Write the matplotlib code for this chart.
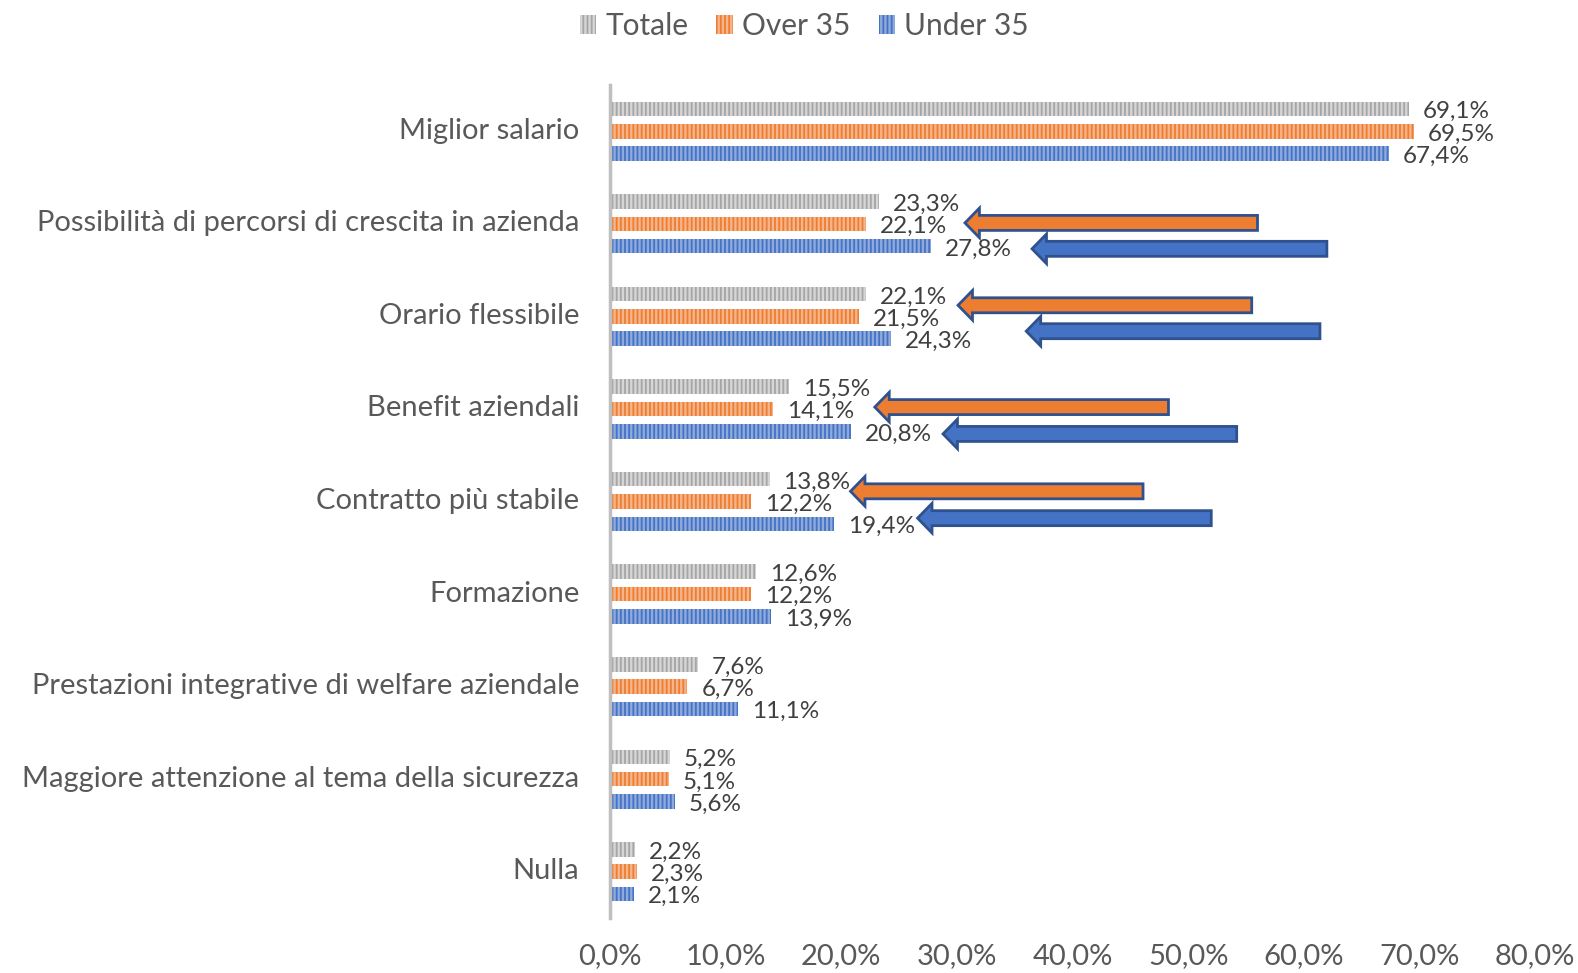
import matplotlib
matplotlib.use("Agg")
import matplotlib.pyplot as plt
import matplotlib.transforms as mtransforms
import numpy as np
from matplotlib.patches import FancyArrow
from matplotlib.ticker import FuncFormatter

plt.rcParams['font.family'] = ['Lato', 'DejaVu Sans']
plt.rcParams['hatch.linewidth'] = 1.7

categories = [
    "Miglior salario",
    "Possibilità di percorsi di crescita in azienda",
    "Orario flessibile",
    "Benefit aziendali",
    "Contratto più stabile",
    "Formazione",
    "Prestazioni integrative di welfare aziendale",
    "Maggiore attenzione al tema della sicurezza",
    "Nulla",
]
series_names = ["Totale", "Over 35", "Under 35"]
totale = [69.1, 23.3, 22.1, 15.5, 13.8, 12.6, 7.6, 5.2, 2.2]
over35 = [69.5, 22.1, 21.5, 14.1, 12.2, 12.2, 6.7, 5.1, 2.3]
under35 = [67.4, 27.8, 24.3, 20.8, 19.4, 13.9, 11.1, 5.6, 2.1]
x_ticks = [0, 10, 20, 30, 40, 50, 60, 70, 80]

# highlight arrows: (category index, series, tip x, tail x)
arrow_rows = [1, 1, 2, 2, 3, 3, 4, 4]
arrow_series = ["Over 35", "Under 35"] * 4
arrow_tips = [30.7, 36.5, 30.1, 36.0, 22.9, 28.8, 20.8, 26.6]
arrow_tails = [56.0, 62.0, 55.5, 61.4, 48.3, 54.2, 46.1, 52.0]
arrow_dy = [-0.01, 0.27, -0.12, 0.16, -0.02, 0.27, -0.11, 0.18]

colors = ["#A5A5A5", "#ED7D31", "#4472C4"]
hatch_colors = ["#D6D6D6", "#F6B48A", "#8FAADC"]

fig = plt.figure(figsize=(15.78, 9.73), dpi=100)
ax = fig.add_axes([610/1578, 1-918/973, (1535-610)/1578, (918-85)/973])

y = np.arange(len(categories))
off = 0.241
h = 0.157
data = [totale, over35, under35]
for i, (vals, name) in enumerate(zip(data, series_names)):
    bars = ax.barh(y + (i-1)*off, vals, height=h, color=colors[i],
                   edgecolor=hatch_colors[i], linewidth=0, hatch='||||', label=name)
    texts = ax.bar_label(bars, labels=[f"{v:.1f}".replace('.', ',') + "%" for v in vals],
                         padding=10, fontsize=17.5, color="#404040")
    for t in texts:
        t.xyann = (t.xyann[0], t.xyann[1] - 2)

series_color = {"Over 35": "#ED7D31", "Under 35": "#4472C4"}
for r, s, tip, tail, dy in zip(arrow_rows, arrow_series, arrow_tips, arrow_tails, arrow_dy):
    arr = FancyArrow(tail, r + dy, tip - tail, 0, width=0.162, head_width=0.32,
                     head_length=1.25, length_includes_head=True,
                     facecolor=series_color[s], edgecolor="#2F528F", linewidth=2.0, zorder=5)
    ax.add_patch(arr)

ax.set_xlim(0, 80)
ax.set_ylim(len(categories) - 0.5, -0.5)
ax.set_xticks(x_ticks)
ax.xaxis.set_major_formatter(FuncFormatter(lambda v, p: f"{v:.1f}".replace('.', ',') + "%"))
ax.set_yticks(y)
ax.set_yticklabels(categories)
ax.tick_params(axis='x', length=0, pad=18, labelsize=21, labelcolor="#595959")
ax.tick_params(axis='y', length=0, pad=22, labelsize=21, labelcolor="#595959")
up = mtransforms.ScaledTranslation(0, 0.03, fig.dpi_scale_trans)
for lbl in ax.get_yticklabels():
    lbl.set_transform(lbl.get_transform() + up)
for s in ['top', 'right', 'bottom']:
    ax.spines[s].set_visible(False)
ax.spines['left'].set_color("#BFBFBF")
ax.spines['left'].set_linewidth(2.5)

leg = fig.legend(loc='upper center', bbox_to_anchor=(0.5096, 1.015), ncol=3, frameon=False,
                 fontsize=21.5, handlelength=0.55, handleheight=0.6, handletextpad=0.3,
                 columnspacing=0.95, labelcolor="#595959")

fig.savefig("out.png", dpi=100)
